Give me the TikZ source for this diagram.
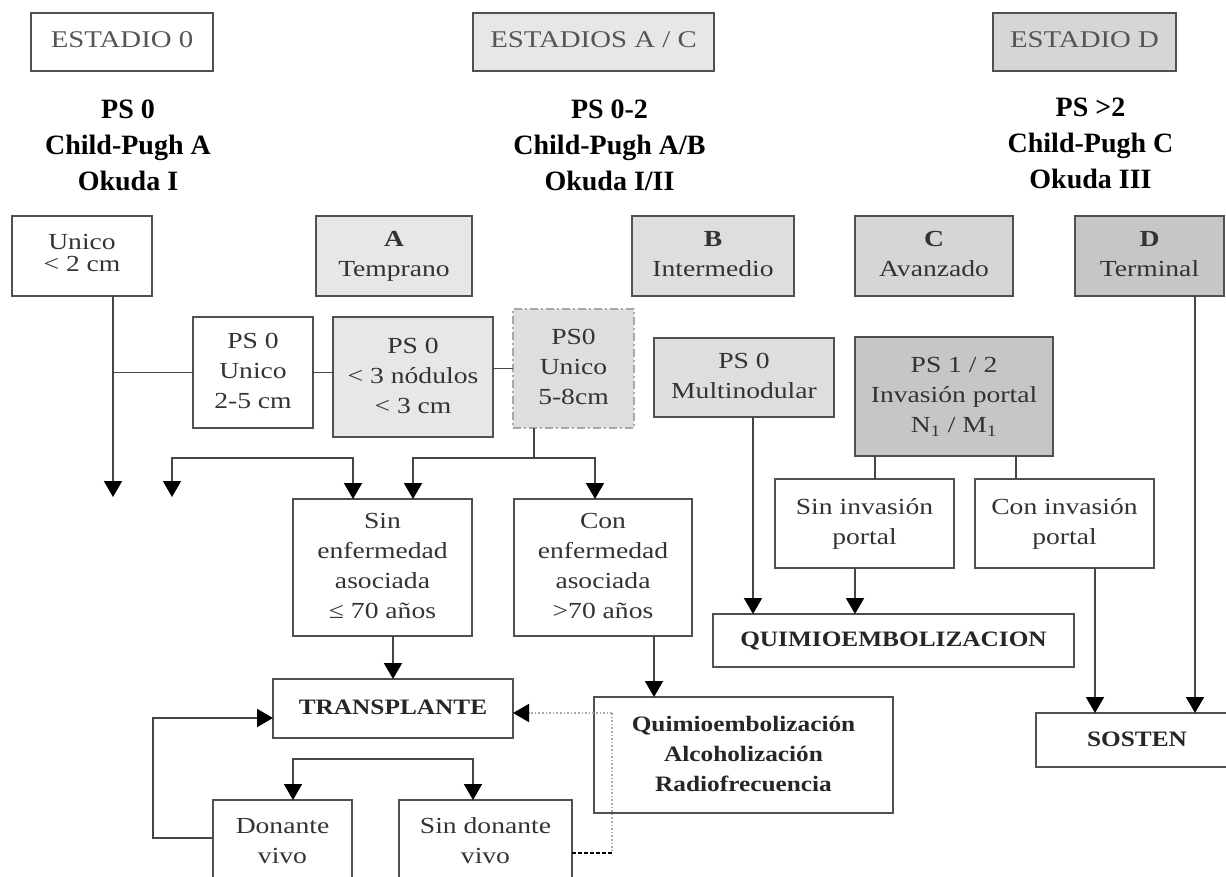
\documentclass[tikz,border=0pt]{standalone}
\usepackage{fontspec}
\setmainfont{Liberation Serif}
\usepackage{graphicx}
\usetikzlibrary{arrows.meta,calc}
\definecolor{ln}{HTML}{454545}
\definecolor{bd}{HTML}{505050}
\definecolor{txtc}{HTML}{333333}
\definecolor{hd}{HTML}{555555}
\definecolor{g1}{HTML}{E7E7E7}
\definecolor{g2}{HTML}{DEDEDE}
\definecolor{g3}{HTML}{D6D6D6}
\definecolor{g4}{HTML}{C6C6C6}
\definecolor{dotc}{HTML}{A8A8A8}
\newcommand\sx[1]{\scalebox{1.2}[1]{\begin{tabular}{@{}c@{}}#1\end{tabular}}}
\newcommand\sbold[1]{\scalebox{1.15}[1]{\begin{tabular}{@{}c@{}}#1\end{tabular}}}
\begin{document}
\begin{tikzpicture}[x=1pt,y=-1pt,
  box/.style={draw=bd, line width=1.8pt, inner sep=0pt, outer sep=0pt, align=center, text=txtc, font=\fontsize{23}{30}\selectfont},
  hdbox/.style={box, text=hd, font=\fontsize{24}{28}\selectfont},
  lbl/.style={align=center, inner sep=0pt, font=\fontsize{28}{36}\selectfont\bfseries},
  bbox/.style={box, font=\fontsize{22}{30}\selectfont\bfseries, text=black!85},
  conn/.style={draw=ln, line width=1.9pt},
  tip/.style={-{Triangle[width=18pt,length=16pt,color=black]}},
  arr/.style={conn, tip},
  darr/.style={conn, {Triangle[width=18pt,length=16pt,color=black]}-{Triangle[width=18pt,length=16pt,color=black]}}
]
\useasboundingbox (0,0) rectangle (1226,877);
\fill[white] (0,0) rectangle (1226,877);

% headers
\node[hdbox, fill=white, minimum width=182pt, minimum height=58pt] (e0) at (122,42) {\sx{ESTADIO 0}};
\node[hdbox, fill=g1, minimum width=241pt, minimum height=58pt] (eac) at (593.5,42) {\sx{ESTADIOS A / C}};
\node[hdbox, fill=g3, minimum width=183pt, minimum height=58pt] (ed) at (1084.5,42) {\sx{ESTADIO D}};

\node[lbl] (l0) at (128,145) {PS 0\\Child-Pugh A\\Okuda I};
\node[lbl] (lac) at (609.5,145) {PS 0-2\\Child-Pugh A/B\\Okuda I/II};
\node[lbl] (ld) at (1090.5,143) {PS >2\\Child-Pugh C\\Okuda III};

% row 1
\node[box, fill=white, minimum width=140pt, minimum height=80pt, font=\fontsize{23}{22}\selectfont] (u2) at (82,256) {\sx{Unico\\< 2 cm}};
\node[box, fill=g1, minimum width=156pt, minimum height=80pt] (A) at (394,256) {\sx{\textbf{A}\\Temprano}};
\node[box, fill=g2, minimum width=162pt, minimum height=80pt] (B) at (713,256) {\sx{\textbf{B}\\Intermedio}};
\node[box, fill=g3, minimum width=158pt, minimum height=80pt] (C) at (934,256) {\sx{\textbf{C}\\Avanzado}};
\node[box, fill=g4, minimum width=149pt, minimum height=80pt] (D) at (1149.5,256) {\sx{\textbf{D}\\Terminal}};

% row 2
\node[box, fill=white, minimum width=120pt, minimum height=111pt] (p25) at (253,372.5) {\sx{PS 0\\Unico\\2-5 cm}};
\node[box, fill=g1, minimum width=160pt, minimum height=120pt] (p3n) at (413,377) {\sx{PS 0\\< 3 nódulos\\< 3 cm}};
\node[box, fill=g2, draw=dotc, dash pattern=on 8pt off 3pt on 2pt off 3pt, minimum width=121pt, minimum height=119pt] (p58) at (573.5,368.5) {\sx{PS0\\Unico\\5-8cm}};
\node[box, fill=g2, minimum width=180pt, minimum height=79pt] (pmn) at (744,377.5) {\sx{PS 0\\Multinodular}};
\node[box, fill=g4, minimum width=198pt, minimum height=119pt] (p12) at (954,396.5) {\sx{PS 1 / 2\\Invasión portal\\N\textsubscript{1} / M\textsubscript{1}}};

% row 3
\node[box, fill=white, minimum width=179pt, minimum height=137pt] (sin) at (382.5,567.5) {\sx{Sin\\enfermedad\\asociada\\≤ 70 años}};
\node[box, fill=white, minimum width=178pt, minimum height=137pt] (con) at (603,567.5) {\sx{Con\\enfermedad\\asociada\\>70 años}};
\node[box, fill=white, minimum width=179pt, minimum height=89pt] (sinp) at (864.5,523.5) {\sx{Sin invasión\\portal}};
\node[box, fill=white, minimum width=179pt, minimum height=89pt] (conp) at (1064.5,523.5) {\sx{Con invasión\\portal}};
\node[bbox, fill=white, minimum width=361pt, minimum height=53pt] (quimio) at (893.5,640.5) {\sbold{QUIMIOEMBOLIZACION}};
\node[bbox, fill=white, minimum width=202pt, minimum height=54pt] (sosten) at (1137,740) {\sbold{SOSTEN}};
\node[bbox, fill=white, minimum width=240pt, minimum height=59pt] (trans) at (393,708.5) {\sbold{TRANSPLANTE}};
\node[bbox, fill=white, minimum width=299pt, minimum height=116pt] (qar) at (743.5,755) {\sbold{Quimioembolización\\Alcoholización\\Radiofrecuencia}};
\node[box, fill=white, minimum width=139pt, minimum height=84pt] (dv) at (282.5,842) {\sx{Donante\\vivo}};
\node[box, fill=white, minimum width=173pt, minimum height=84pt] (sdv) at (485.5,842) {\sx{Sin donante\\vivo}};

% coordinates
\coordinate (a1) at (113,497);
\coordinate (j1) at (534,458);
\coordinate (s1) at (413,499);
\coordinate (c1) at (595,499);
\coordinate (f1) at (172,497);
\coordinate (k1) at (353,458);
\coordinate (s0) at (353,499);
\coordinate (q1) at (753,614);
\coordinate (q2) at (855,614);
\coordinate (x1) at (875,0);
\coordinate (x2) at (1016,0);
\coordinate (so1) at (1095,713);
\coordinate (so2) at (1195,713);
\coordinate (t1) at (654,697);
\coordinate (d1) at (612,713);
\coordinate (d2) at (612,853);
\coordinate (b1) at (293,800);
\coordinate (b2) at (473,759);
\coordinate (b3) at (473,800);
\coordinate (lp1) at (153,838);
\coordinate (lp2) at (153,718);

% connectors
\draw[arr] (u2.south -| a1) -- (a1);
\draw[conn] (p25.west) -- (p25.west -| a1);
\draw[conn] (p25.east) -- (p25.east -| p3n.west);
\draw[conn] (p58.west) -- (p58.west -| p3n.east);
\draw[conn] (p58.south -| j1) -- (j1);
\draw[arr] (j1) -| (s1);
\draw[arr] (j1) -| (c1);
\draw[darr] (f1) |- (k1) -- (s0);
\draw[arr] (pmn.south -| q1) -- (q1);
\draw[conn] (p12.south -| x1) -- (sinp.north -| x1);
\draw[conn] (p12.south -| x2) -- (conp.north -| x2);
\draw[arr] (sinp.south -| q2) -- (q2);
\draw[arr] (conp.south -| so1) -- (so1);
\draw[arr] (D.south -| so2) -- (so2);
\draw[arr] (sin.south -| trans.north) -- (trans.north);
\draw[arr] (con.south -| t1) -- (t1);
\draw[draw=dotc, line width=1.6pt, dotted, -{Triangle[width=18pt,length=16pt,color=black]}] (d1) -- (trans.east |- d1);
\draw[draw=dotc, line width=1.6pt, dotted] (d1) -- (d2);
\draw[black, line width=1.2pt, dash pattern=on 4pt off 2pt] (d2) -- (sdv.east |- d2);
\draw[darr] (b1) |- (b2) -- (b3);
\draw[arr] (dv.west |- lp1) -- (lp1) -- (lp2) -- (trans.west |- lp2);
\end{tikzpicture}
\end{document}
